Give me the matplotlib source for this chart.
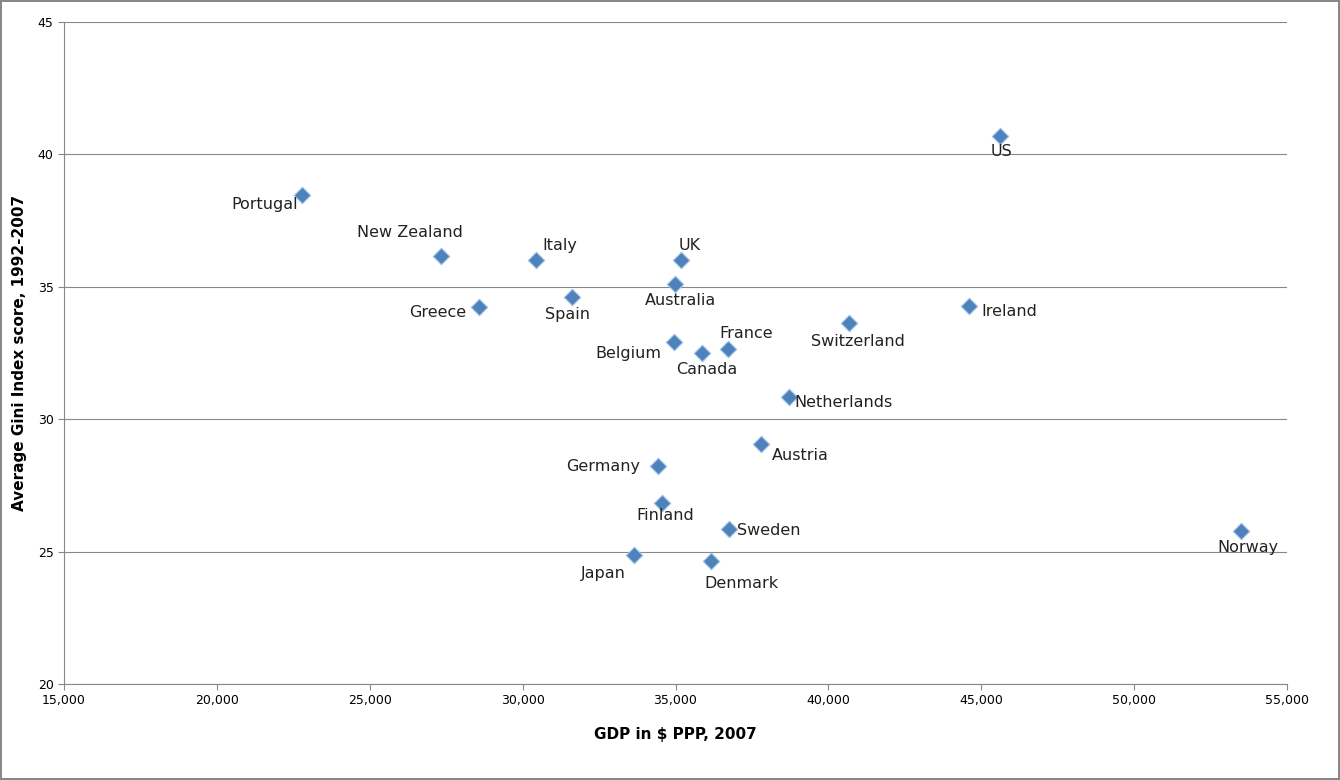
import matplotlib
matplotlib.use("Agg")
import matplotlib.pyplot as plt
from matplotlib.ticker import FuncFormatter

countries = ["Portugal", "New Zealand", "Greece", "Italy", "Spain", "UK", "Australia",
             "Belgium", "Canada", "France", "Switzerland", "Ireland", "US", "Netherlands",
             "Austria", "Germany", "Finland", "Sweden", "Japan", "Denmark", "Norway"]
gdp = [22780, 27330, 28570, 30440, 31620, 35180, 34980, 34950, 35870, 36720, 40680,
       44600, 45610, 38710, 37800, 34430, 34560, 36750, 33640, 36160, 53500]
gini = [38.47, 36.16, 34.24, 36.0, 34.6, 36.0, 35.1, 32.9, 32.5, 32.65, 33.63,
        34.27, 40.7, 30.84, 29.06, 28.23, 26.84, 25.86, 24.87, 24.65, 25.78]

# label offsets (points) and alignment
offsets = {
    "Portugal": (-3, -7, "right"), "New Zealand": (-22, 17, "center"),
    "Greece": (-9, -4, "right"), "Italy": (17, 11, "center"), "Spain": (-3, -12, "center"),
    "UK": (6, 11, "center"), "Australia": (4, -12, "center"), "Belgium": (-9, -8, "right"),
    "Canada": (3, -12, "center"), "France": (13, 11, "center"), "Switzerland": (6, -13, "center"),
    "Ireland": (9, -4, "left"), "US": (1, -11, "center"), "Netherlands": (4, -4, "left"),
    "Austria": (8, -8, "left"), "Germany": (-13, 0, "right"), "Finland": (2, -9, "center"),
    "Sweden": (6, -1, "left"), "Japan": (-22, -13, "center"), "Denmark": (22, -16, "center"),
    "Norway": (5, -12, "center"),
}

fig = plt.figure(figsize=(13.4, 7.8), dpi=100)
fig.patch.set_edgecolor("#888888")
fig.patch.set_linewidth(1.5)
ax = fig.add_axes([64 / 1340, 96 / 780, 1223 / 1340, 662 / 780])

ax.scatter(gdp, gini, marker="D", s=70, color="#4f81bd", edgecolor="#9dc3e6",
           linewidths=0.8, zorder=3)
for c, x, y in zip(countries, gdp, gini):
    dx, dy, ha = offsets[c]
    ax.annotate(c, (x, y), xytext=(dx, dy), textcoords="offset points",
                ha=ha, va="center", fontsize=11.5, color="#222222")

ax.set_xlim(15000, 55000)
ax.set_ylim(20, 45)
ax.set_xticks(range(15000, 55001, 5000))
ax.set_yticks(range(20, 46, 5))
ax.xaxis.set_major_formatter(FuncFormatter(lambda v, p: f"{int(v):,}"))
ax.grid(axis="y", color="#888888", linewidth=0.8)
ax.set_axisbelow(True)
for s in ["top", "right"]:
    ax.spines[s].set_visible(False)
for s in ["left", "bottom"]:
    ax.spines[s].set_color("#888888")
ax.tick_params(labelsize=9, color="#888888", length=4)
ax.set_xlabel("GDP in $ PPP, 2007", fontsize=11, fontweight="bold", labelpad=14)
ax.set_ylabel("Average Gini Index score, 1992-2007", fontsize=11, fontweight="bold", labelpad=8)

fig.savefig("out.png", dpi=100, edgecolor=fig.get_edgecolor())
